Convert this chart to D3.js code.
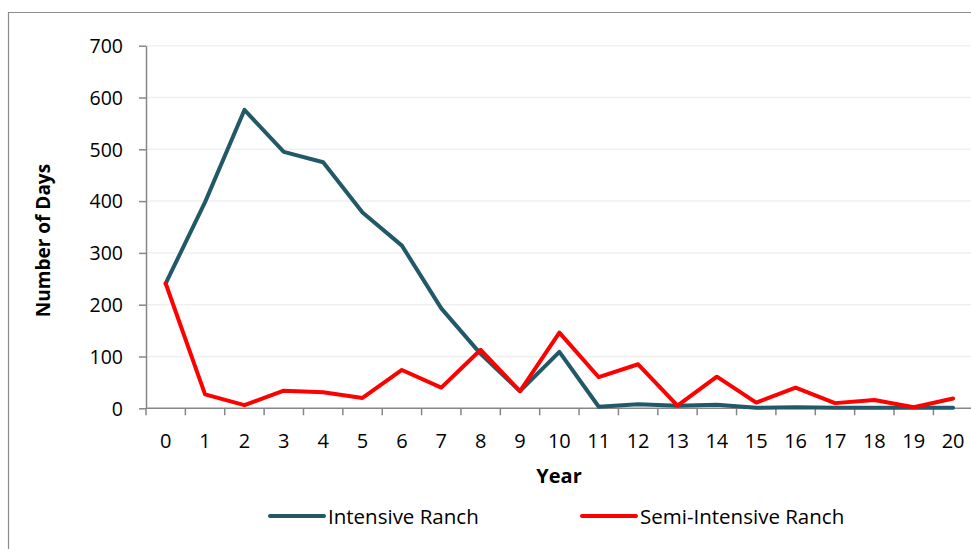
<!DOCTYPE html>
<html>
<head>
<meta charset="utf-8">
<script src="https://cdn.jsdelivr.net/npm/d3@7"></script>
<style>
  html, body { margin: 0; padding: 0; background: #fff; }
  svg { display: block; }
  text { font-family: "Open Sans", "Noto Sans", sans-serif; fill: #000; }
</style>
</head>
<body>
<svg id="chart" width="971" height="549"></svg>
<script>
// ---- data ----
const years = [0,1,2,3,4,5,6,7,8,9,10,11,12,13,14,15,16,17,18,19,20];
const intensive = [241,398,576,495,475,378,314,193,105,33,109,3,8,5,7,1,2,1,1,1,1];
const semiIntensive = [241,27,6,34,31,20,74,40,113,33,146,60,85,5,61,11,40,10,16,2,19];
const yTicks = [0,100,200,300,400,500,600,700];
const seriesNames = ["Intensive Ranch", "Semi-Intensive Ranch"];
const seriesColors = ["#215968", "#ff0000"];

(function () {
// ---- layout ----
const W = 971, H = 549;
const plotLeft = 146, bandW = 39.37;
const plotTop = 45.7, plotBottom = 408.3;

const svg = d3.select("#chart");

// outer frame (chart area border)
svg.append("path")
  .attr("d", `M8.5,${H} L8.5,12.5 L${W},12.5`)
  .attr("fill", "none").attr("stroke", "#8c8c8c").attr("stroke-width", 1.2);

const x = d3.scaleBand().domain(years).range([plotLeft, plotLeft + bandW * years.length]).padding(0);
const y = d3.scaleLinear().domain([0, 700]).range([plotBottom, plotTop]);
const xc = d => x(d) + x.bandwidth() / 2;

// gridlines
svg.append("g").selectAll("line").data(yTicks.filter(t => t > 0)).join("line")
  .attr("x1", plotLeft).attr("x2", W)
  .attr("y1", d => y(d)).attr("y2", d => y(d))
  .attr("stroke", "#efefef").attr("stroke-width", 1.5);

// y axis
const yAxis = svg.append("g").attr("transform", `translate(${plotLeft},0)`)
  .call(d3.axisLeft(y).tickValues(yTicks).tickSize(7).tickPadding(16).tickSizeOuter(0));
yAxis.select(".domain").attr("stroke", "#868686").attr("stroke-width", 1.5);
yAxis.selectAll(".tick line").attr("stroke", "#868686").attr("stroke-width", 1.5);
yAxis.selectAll(".tick text").attr("font-size", 19.5).attr("font-family", "Open Sans").attr("fill", "#000").attr("dy", "0.35em");

// x axis
const xg = svg.append("g");
xg.append("line").attr("x1", plotLeft).attr("x2", W).attr("y1", y(0)).attr("y2", y(0))
  .attr("stroke", "#868686").attr("stroke-width", 1.5);
const boundaries = years.map(d => x(d)).concat([x(years[years.length - 1]) + x.bandwidth()]);
xg.selectAll("line.tk").data(boundaries).join("line").attr("class", "tk")
  .attr("x1", d => d).attr("x2", d => d)
  .attr("y1", y(0)).attr("y2", y(0) + 7)
  .attr("stroke", "#868686").attr("stroke-width", 1.5);
xg.selectAll("text").data(years).join("text")
  .attr("x", d => xc(d)).attr("y", 447.5)
  .attr("text-anchor", "middle").attr("font-size", 20)
  .text(d => d);

// axis titles
svg.append("text").attr("x", 559).attr("y", 483)
  .attr("text-anchor", "middle").attr("font-size", 20).attr("font-weight", "bold")
  .text("Year");
svg.append("text").attr("transform", "translate(50,240.5) rotate(-90)")
  .attr("text-anchor", "middle").attr("font-size", 19).attr("font-weight", "bold")
  .text("Number of Days");

// lines
const line = d3.line().x((d, i) => xc(years[i])).y(d => y(d));
[intensive, semiIntensive].forEach((s, i) => {
  svg.append("path").datum(s)
    .attr("d", line)
    .attr("fill", "none")
    .attr("stroke", seriesColors[i])
    .attr("stroke-width", 4)
    .attr("stroke-linejoin", "round")
    .attr("stroke-linecap", "round");
});

// legend
const legendX = [270, 582];
seriesNames.forEach((name, i) => {
  const g = svg.append("g").attr("transform", `translate(${legendX[i]},516)`);
  g.append("line").attr("x1", 0).attr("x2", 54).attr("y1", 0).attr("y2", 0)
    .attr("stroke", seriesColors[i]).attr("stroke-width", 4).attr("stroke-linecap", "round");
  g.append("text").attr("x", 58).attr("y", 7.5).attr("font-size", 20.5).text(name);
});
})();
</script>
</body>
</html>
